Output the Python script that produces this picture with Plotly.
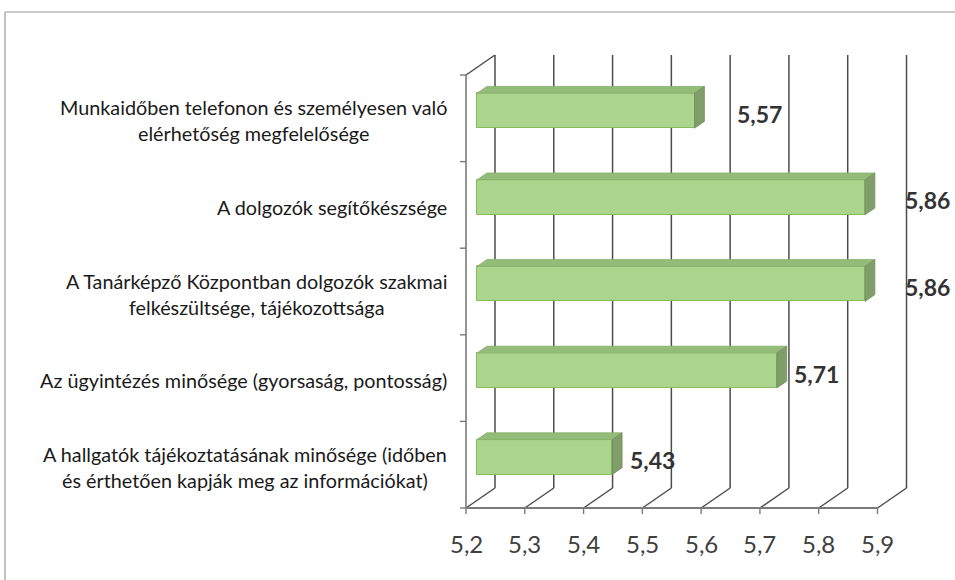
import plotly.graph_objects as go

# ---------------- data ----------------
categories = [
    "Munkaidőben telefonon és személyesen való<br>elérhetőség megfelelősége",
    "A dolgozók segítőkészsége",
    "A Tanárképző Központban dolgozók szakmai<br>felkészültsége, tájékozottsága",
    "Az ügyintézés minősége (gyorsaság, pontosság)",
    "A hallgatók tájékoztatásának minősége (időben<br>és érthetően kapják meg az információkat)",
]
values = [5.57, 5.86, 5.86, 5.71, 5.43]
value_labels = ["5,57", "5,86", "5,86", "5,71", "5,43"]
tick_values = [5.2, 5.3, 5.4, 5.5, 5.6, 5.7, 5.8, 5.9]
tick_labels = ["5,2", "5,3", "5,4", "5,5", "5,6", "5,7", "5,8", "5,9"]

# ---------------- geometry / style ----------------
W, H = 955, 580
XMIN, XMAX = tick_values[0], tick_values[-1]
X0PX, X1PX = 466.0, 877.5          # front axis pixel span
PXU = (X1PX - X0PX) / (XMAX - XMIN)  # pixels per value unit
YB_PX = 508.0                        # front floor pixel row
CAT_PX = 86.6                        # pixels per category
n = len(categories)

x_range = [XMIN - X0PX / PXU, XMIN + (W - X0PX) / PXU]
y_range = [-0.5 - (H - YB_PX) / CAT_PX, -0.5 + YB_PX / CAT_PX]

DX = 29 / PXU      # wall depth (x, value units)
DY = 20 / CAT_PX   # wall depth (y, category units)
F0, F1 = 0.38, 0.72  # bar front / back depth fractions
BAR_W = 35 / CAT_PX

front_col = "#abd48c"
top_col = "#94bc79"
side_col = "#7f9e6a"
edge_col = "#86bd5c"
grid_col = "#4d4d4d"
axis_col = "#7a7a7a"

ypos = [n - 1 - k for k in range(n)]  # top category first

fig = go.Figure()

shapes = []
def seg(x0, y0, x1, y1, color, width):
    shapes.append(dict(type="line", xref="x", yref="y", x0=x0, y0=y0, x1=x1, y1=y1,
                       line=dict(color=color, width=width), layer="below"))

y_floor = -0.5
y_top = n - 0.5
# back wall gridlines and floor diagonals
for t in tick_values:
    seg(t + DX, y_floor + DY, t + DX, y_top + DY, grid_col, 1.5)
    seg(t, y_floor, t + DX, y_floor + DY, grid_col, 1.5)
# left wall
seg(XMIN, y_floor, XMIN, y_top, axis_col, 1.6)
seg(XMIN, y_top, XMIN + DX, y_top + DY, grid_col, 1.5)
# category ticks
for b in range(n + 1):
    seg(XMIN - 6 / PXU, b - 0.5, XMIN, b - 0.5, axis_col, 1.4)
# front axis and ticks
seg(XMIN, y_floor, XMAX, y_floor, axis_col, 2)
for t in tick_values:
    seg(t, y_floor, t, y_floor - 6 / CAT_PX, axis_col, 1.4)

# frame
shapes.append(dict(type="line", xref="paper", yref="paper", x0=5 / W, x1=5 / W,
                   y0=1 - 12 / H, y1=-0.1, line=dict(color="#9a9a9a", width=1.2)))
shapes.append(dict(type="line", xref="paper", yref="paper", x0=5 / W, x1=1.01,
                   y0=1 - 12 / H, y1=1 - 12 / H, line=dict(color="#9a9a9a", width=1.2)))

# front faces
fig.add_trace(go.Bar(
    orientation="h",
    y=[y + F0 * DY for y in ypos],
    x=[v - XMIN for v in values],
    base=[XMIN + F0 * DX] * n,
    width=BAR_W,
    marker=dict(color=front_col, line=dict(color=edge_col, width=1)),
    hoverinfo="skip",
    showlegend=False,
))

dd_x = (F1 - F0) * DX
dd_y = (F1 - F0) * DY
for y, v in zip(ypos, values):
    yc = y + F0 * DY
    yt = yc + BAR_W / 2
    yb = yc - BAR_W / 2
    xl = XMIN + F0 * DX
    xr = v + F0 * DX
    # top face
    fig.add_trace(go.Scatter(
        x=[xl, xl + dd_x, xr + dd_x, xr, xl],
        y=[yt, yt + dd_y, yt + dd_y, yt, yt],
        fill="toself", fillcolor=top_col, mode="lines",
        line=dict(color="#86b068", width=0.8), hoverinfo="skip", showlegend=False))
    # side face
    fig.add_trace(go.Scatter(
        x=[xr, xr + dd_x, xr + dd_x, xr, xr],
        y=[yt, yt + dd_y, yb + dd_y, yb, yt],
        fill="toself", fillcolor=side_col, mode="lines",
        line=dict(color="#758f62", width=0.8), hoverinfo="skip", showlegend=False))

annotations = []
# value labels
nudges = [0.087, 0.083, 0.083, 0.045, 0.045]
for y, v, lab, nd in zip(ypos, values, value_labels, nudges):
    annotations.append(dict(
        x=v + nd, y=y + F0 * DY - 3 / CAT_PX, xref="x", yref="y", text=lab,
        showarrow=False, xanchor="left", yanchor="middle",
        font=dict(family="Lato", size=23, color="#333333", weight="bold")))
# category labels
for y, c in zip(ypos, categories):
    annotations.append(dict(
        x=449 / W, y=y - 2 / CAT_PX, xref="paper", yref="y", text=c,
        showarrow=False, xanchor="right", yanchor="middle", align="center",
        font=dict(family="Lato", size=19.8, color="#1a1a1a")))
# x tick labels
for t, lab in zip(tick_values, tick_labels):
    annotations.append(dict(
        x=t, y=y_floor - 35 / CAT_PX, xref="x", yref="y", text=lab,
        showarrow=False, xanchor="center", yanchor="middle",
        font=dict(family="Lato", size=24, color="#404040")))

fig.update_layout(
    width=W, height=H,
    margin=dict(l=0, r=0, t=0, b=0),
    paper_bgcolor="white", plot_bgcolor="white",
    xaxis=dict(range=x_range, visible=False, fixedrange=True),
    yaxis=dict(range=y_range, visible=False, fixedrange=True),
    shapes=shapes, annotations=annotations,
    showlegend=False, bargap=0,
)

fig.write_html(
    "out.html",
    config={"displayModeBar": False},
    post_script="document.body.style.margin='0';document.body.style.overflow='hidden';",
)
